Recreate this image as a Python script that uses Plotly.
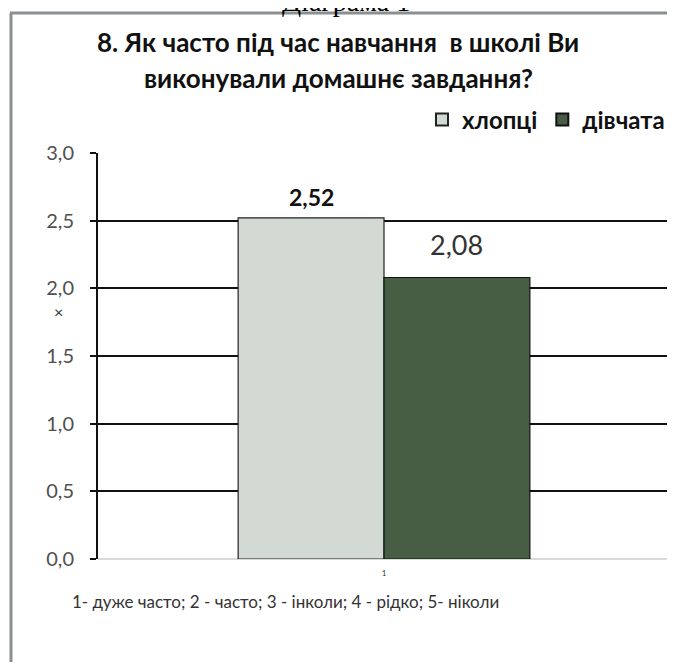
import plotly.graph_objects as go

categories = ["1"]
series_names = ["хлопці", "дівчата"]
boys = [2.52]
girls = [2.08]
y_ticks = [0.0, 0.5, 1.0, 1.5, 2.0, 2.5, 3.0]
y_tick_labels = ["0,0", "0,5", "1,0", "1,5", "2,0", "2,5", "3,0"]
title_lines = ["8. Як часто під час навчання  в школі Ви", "виконували домашнє завдання?"]
x_title = "1- дуже часто; 2 - часто; 3 - інколи; 4 - рідко; 5- ніколи"
caption = "Діаграма 1"

# page has an 8px body margin; figure sized to fill the rest of the window
OFF = 8
W, H = 675 - OFF, 666 - OFF
L, R, T, B = 98 - OFF, W - (670 - OFF), 153 - OFF, H - (559 - OFF)
PW, PH = W - L - R, H - T - B

def px_x(p):
    return (p - OFF - L) / PW

def px_y(p):
    return (H - B - (p - OFF)) / PH

FONT = "Lato, 'Noto Sans', sans-serif"

fig = go.Figure()
fig.add_trace(go.Bar(x=categories, y=boys, name="<b>" + series_names[0] + "</b>",
                     marker=dict(color="#d3d9d3", line=dict(color="#222222", width=1.2))))
fig.add_trace(go.Bar(x=categories, y=girls, name="<b>" + series_names[1] + "</b>",
                     marker=dict(color="#475e44", line=dict(color="#111111", width=1.2))))

annotations = [
    dict(text=caption, xref="paper", yref="paper", x=px_x(346), y=px_y(1),
         showarrow=False, font=dict(family="Liberation Serif", size=28, color="#000"),
         xanchor="center", yanchor="middle"),
    dict(text="<b>" + title_lines[0] + "</b>", xref="paper", yref="paper", x=px_x(338), y=px_y(42),
         showarrow=False, font=dict(family=FONT, size=26, color="#111"), xanchor="center", yanchor="middle"),
    dict(text="<b>" + title_lines[1] + "</b>", xref="paper", yref="paper", x=px_x(338), y=px_y(78),
         showarrow=False, font=dict(family=FONT, size=26, color="#111"), xanchor="center", yanchor="middle"),
    dict(text=x_title, xref="paper", yref="paper", x=px_x(285), y=px_y(601),
         showarrow=False, font=dict(family=FONT, size=17, color="#333"), xanchor="center", yanchor="middle"),
    dict(text="×", xref="paper", yref="paper", x=px_x(58), y=px_y(311),
         showarrow=False, font=dict(family=FONT, size=16, color="#333"), xanchor="center", yanchor="middle"),
    dict(text="<b>" + f"{boys[0]:.2f}".replace(".", ",") + "</b>", xref="x", yref="y",
         x=0, y=boys[0], xshift=-73, yshift=21, showarrow=False,
         font=dict(family=FONT, size=23, color="#111"), yanchor="middle"),
    dict(text=f"{girls[0]:.2f}".replace(".", ","), xref="x", yref="y",
         x=0, y=girls[0], xshift=72, yshift=33, showarrow=False,
         font=dict(family=FONT, size=27, color="#333"), yanchor="middle"),
]

shapes = [
    dict(type="line", xref="paper", yref="paper", x0=px_x(11), x1=px_x(11), y0=px_y(13), y1=px_y(662),
         line=dict(color="#8a8f92", width=3)),
    dict(type="line", xref="paper", yref="paper", x0=px_x(10), x1=px_x(690), y0=px_y(13), y1=px_y(13),
         line=dict(color="#8a8f92", width=3)),
]

fig.update_layout(
    width=W, height=H,
    margin=dict(l=L, r=R, t=T, b=B, autoexpand=False),
    paper_bgcolor="white", plot_bgcolor="white",
    separators=", ",
    barmode="group", bargap=0.49, bargroupgap=0,
    showlegend=True,
    legend=dict(orientation="h", x=1.0, xanchor="right", y=px_y(120), yanchor="middle",
                font=dict(family=FONT, size=24, color="#111"),
                itemsizing="constant", itemwidth=30, bgcolor="rgba(0,0,0,0)", tracegroupgap=0),
    annotations=annotations,
    shapes=shapes,
    font=dict(family=FONT),
)
fig.update_yaxes(range=[0, 3], tickvals=y_ticks, ticktext=y_tick_labels,
                 showgrid=True, gridcolor="#111", gridwidth=1.5,
                 showline=True, linecolor="#111", linewidth=2,
                 ticks="outside", ticklen=6, tickcolor="#111", tickwidth=2,
                 zeroline=True, zerolinecolor="#d9d9d9", zerolinewidth=2,
                 ticklabelstandoff=12,
                 tickfont=dict(family=FONT, size=20, color="#505050"), fixedrange=True)
fig.update_xaxes(range=[-0.5, 0.5], showgrid=False, showline=False, ticks="",
                 ticklabelstandoff=8,
                 tickfont=dict(family=FONT, size=8, color="#333"), fixedrange=True)

fig.write_html("out.html")
